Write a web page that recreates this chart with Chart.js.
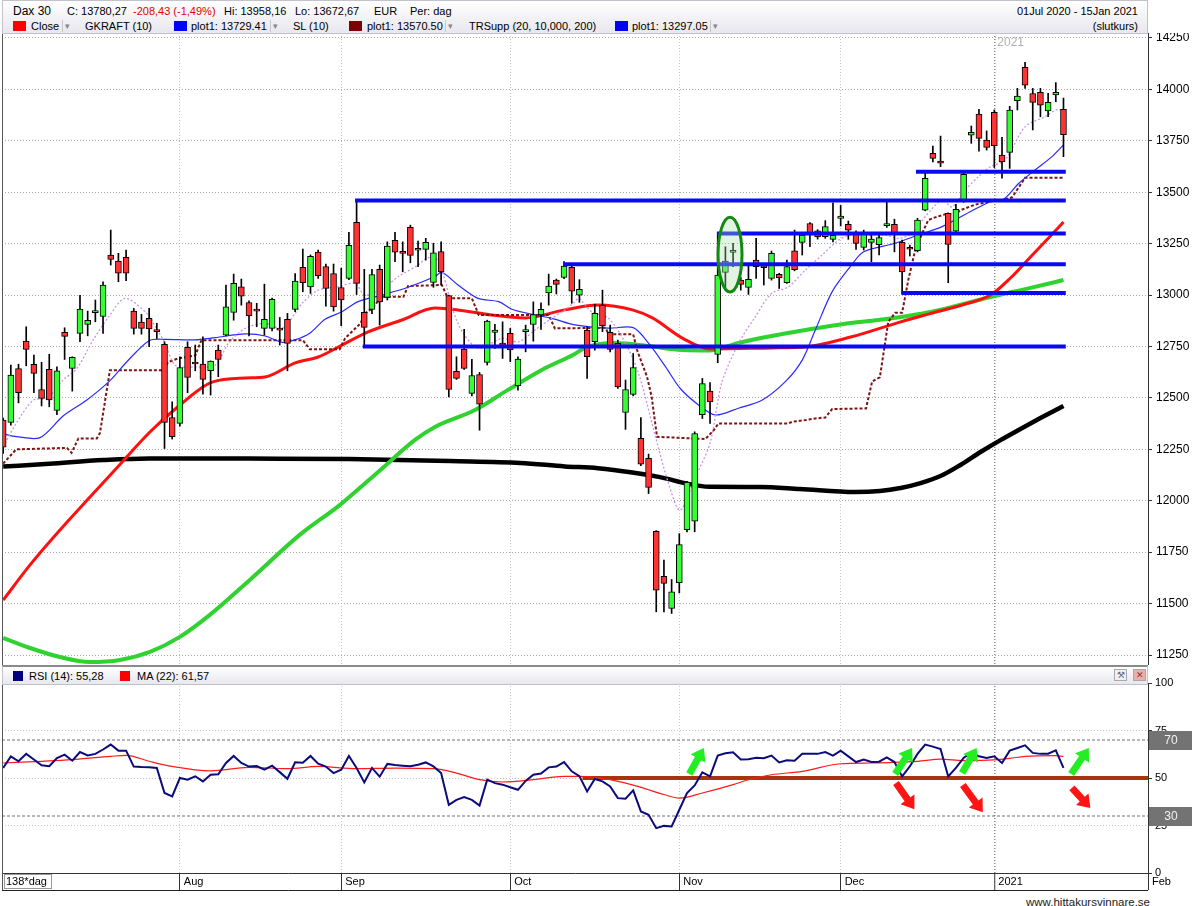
<!DOCTYPE html>
<html>
<head>
<meta charset="utf-8">
<title>Dax 30</title>
<script src="https://cdn.jsdelivr.net/npm/chart.js@4.4.1/dist/chart.umd.min.js"></script>
<style>
  html, body { margin: 0; padding: 0; background: #fff; }
  body { font-family: "Liberation Sans", Arial, sans-serif; color: #000; }
  #page { position: relative; width: 1194px; height: 906px; overflow: hidden; }
  .band { position: absolute; left: 2px; width: 1146px; box-sizing: border-box;
          background: linear-gradient(#ffffff, #e7e7ee); border: 1px solid #c2c2cc; z-index: 2; }
  .t { position: absolute; font-size: 11px; line-height: 14px; white-space: nowrap; }
  .sq { position: absolute; width: 13px; height: 10px; }
  .dd { position: absolute; width: 9px; height: 12px; border-left: 1px solid #c8c8c8; color: #888;
        font-size: 9px; line-height: 12px; text-align: center; }
  .ico { position: absolute; width: 13px; height: 12px; border: 1px solid #a8a8b0; box-sizing: border-box;
         font-size: 9px; line-height: 10px; text-align: center; }
  canvas { position: absolute; left: 0; }
</style>
</head>
<body>
<div id="page">
  <canvas id="mainChart" width="1194" height="632" style="top:33px"></canvas>
  <canvas id="rsiChart" width="1194" height="216" style="top:675px"></canvas>

  <div class="band" style="top:0;height:34px;">
    <span class="t" style="left:10px;top:3px;font-size:12px;">Dax 30</span>
    <span class="t" style="left:64px;top:3px;">C: 13780,27</span>
    <span class="t" style="left:130px;top:3px;color:#e00000;">-208,43 (-1,49%)</span>
    <span class="t" style="left:221px;top:3px;">Hi: 13958,16</span>
    <span class="t" style="left:292px;top:3px;">Lo: 13672,67</span>
    <span class="t" style="left:371px;top:3px;">EUR</span>
    <span class="t" style="left:407px;top:3px;">Per: dag</span>
    <span class="t" style="right:9px;top:3px;">01Jul 2020 - 15Jan 2021</span>

    <span class="sq" style="left:10px;top:20px;background:#ff0000;"></span>
    <span class="t" style="left:28px;top:18px;">Close</span>
    <span class="dd" style="left:59px;top:19px;">&#9662;</span>
    <span class="t" style="left:82px;top:18px;">GKRAFT (10)</span>
    <span class="sq" style="left:171px;top:20px;background:#0000ff;"></span>
    <span class="t" style="left:188px;top:18px;">plot1: 13729.41</span>
    <span class="dd" style="left:267px;top:19px;">&#9662;</span>
    <span class="t" style="left:290px;top:18px;">SL (10)</span>
    <span class="sq" style="left:346px;top:20px;background:#800000;"></span>
    <span class="t" style="left:364px;top:18px;">plot1: 13570.50</span>
    <span class="dd" style="left:442px;top:19px;">&#9662;</span>
    <span class="t" style="left:466px;top:18px;">TRSupp (20, 10,000, 200)</span>
    <span class="sq" style="left:612px;top:20px;background:#0000ff;"></span>
    <span class="t" style="left:629px;top:18px;">plot1: 13297.05</span>
    <span class="dd" style="left:707px;top:19px;">&#9662;</span>
    <span class="t" style="right:9px;top:18px;">(slutkurs)</span>
  </div>

  <div class="band" style="top:665px;height:20px;border-top:2px solid #8a8a8a;">
    <span class="sq" style="left:10px;top:4px;width:10px;background:#000080;"></span>
    <span class="t" style="left:26px;top:2px;">RSI (14): 55,28</span>
    <span class="sq" style="left:117px;top:4px;width:10px;background:#ff0000;"></span>
    <span class="t" style="left:134px;top:2px;">MA (22): 61,57</span>
    <span class="ico" style="left:1111px;top:2px;background:#eef0f4;color:#667;">&#9874;</span>
    <span class="ico" style="left:1130px;top:2px;background:#e8b0a8;color:#933;">&#10005;</span>
  </div>

  <span class="t" style="right:44px;top:895px;font-size:11.5px;color:#222;">www.hittakursvinnare.se</span>
</div>

<script>
// ---- daily candles, 01 Jul 2020 - 15 Jan 2021 (index 0 = 01 Jul) ----
const opens = [
  12392,12381,12643,12776,12663,12541,12639,12439,12819,12643,
  12814,12857,12915,12896,13195,13165,13183,12922,12869,12887,
  12825,12760,12405,12376,12746,12672,12664,12632,12732,12805,
  12916,13040,12964,12926,12838,12838,12833,12882,12930,13135,
  13040,13209,13139,13105,13037,13081,13354,12916,12930,13125,
  12989,13266,13205,13329,13218,13222,13062,13211,12997,12629,
  12737,12522,12614,12673,12819,12760,12814,12559,12822,12857,
  12903,13011,13073,13086,13135,13000,12830,12773,12951,12819,
  12765,12429,12517,12303,12206,11851,11633,11476,11602,11860,
  11901,12418,12533,12711,13110,13208,13073,13037,13170,13135,
  13081,13101,13060,13215,13256,13348,13313,13284,13271,13373,
  13344,13305,13232,13256,13245,13338,13344,13256,13226,13216,
  13413,13689,13652,13397,13311,13455,13778,13880,13754,13889,
  13681,13694,13945,14107,13980,13986,13896,13973,13903
];
const highs = [
  12402,12660,12664,12846,12708,12673,12712,12651,12841,12700,
  12999,12922,12976,13065,13316,13203,13219,12935,12906,12935,
  12863,12773,12481,12700,12773,12757,12797,12680,12757,13049,
  13102,13078,12972,12960,13053,12985,12891,12911,13105,13224,
  13195,13219,13151,13151,13131,13305,13462,13125,13125,13146,
  13259,13305,13259,13340,13263,13276,13252,13259,13000,12700,
  12833,12688,12624,12878,12858,12870,12838,12700,12854,12967,
  12962,13102,13078,13163,13154,13075,12846,12956,13024,12854,
  12781,12587,12716,12405,12227,11855,11711,11617,11840,12095,
  12335,12595,12574,13303,13235,13252,13086,13146,13276,13151,
  13214,13106,13170,13316,13298,13352,13318,13362,13449,13436,
  13360,13313,13316,13295,13300,13454,13369,13268,13243,13373,
  13592,13725,13773,13400,13441,13592,13822,13903,13798,13900,
  13767,13918,14005,14132,14005,14005,13981,14033,13958
];
const lows = [
  12230,12368,12476,12656,12525,12461,12457,12419,12687,12533,
  12773,12802,12870,12814,13146,13065,13070,12810,12810,12749,
  12789,12254,12300,12363,12525,12632,12518,12514,12603,12801,
  12878,12951,12801,12846,12805,12826,12757,12632,12919,13016,
  13008,13081,12946,12922,12851,13075,13003,12753,12910,12854,
  12976,13162,13113,13157,13138,13170,13038,13049,12505,12590,
  12638,12510,12343,12660,12741,12692,12676,12538,12724,12776,
  12833,12951,13005,13080,12960,12965,12595,12732,12822,12724,
  12546,12347,12510,12170,12035,11460,11460,11452,11552,11849,
  11849,12400,12376,12671,13028,13138,13024,13003,13081,13049,
  13073,13032,13057,13118,13195,13235,13272,13276,13259,13336,
  13271,13222,13219,13162,13195,13329,13210,13008,13190,13210,
  13410,13648,13624,13060,13308,13451,13738,13700,13705,13620,
  13568,13616,13900,14005,13803,13867,13867,13940,13673
];
const closes = [
  12261,12611,12525,12736,12619,12498,12490,12632,12799,12697,
  12932,12877,12920,13049,13174,13106,13106,12838,12838,12836,
  12822,12381,12311,12648,12600,12665,12590,12679,12687,12943,
  13057,12995,12899,12922,12882,12979,12830,12765,13068,13060,
  13188,13094,13032,12943,12976,13242,13057,12843,13100,12967,
  13238,13209,13203,13193,13220,13256,13206,13113,12541,12595,
  12643,12609,12470,12873,12830,12757,12733,12689,12826,12905,
  12931,13044,13052,13141,13019,13028,12700,12911,12851,12736,
  12554,12541,12648,12178,12065,11565,11598,11557,11787,12089,
  12327,12570,12481,13097,13165,13218,13052,13076,13138,13133,
  13203,13084,13138,13124,13292,13292,13283,13333,13290,13384,
  13316,13251,13300,13272,13280,13340,13295,13113,13223,13365,
  13568,13665,13641,13246,13417,13587,13791,13762,13718,13726,
  13648,13900,13968,14021,13937,13924,13937,13986,13780
];

// axis ticks
const yTicks = [11250,11500,11750,12000,12250,12500,12750,13000,13250,13500,13750,14000,14250];
const monthTicks = [-0.15, 23, 44, 66, 88, 109, 129, 149];
const monthLabels = ['138*dag', 'Aug', 'Sep', 'Oct', 'Nov', 'Dec', '2021', 'Feb'];
const yearTick = 129;
const rsiTicks = [0, 25, 50, 75, 100];

// indicator lines: [candle index, value]
const ma200 = [[0,12166],[6,12180],[13,12198],[19,12206],[32,12205],[45,12203],[58.2,12193],[67.3,12184],
  [73.1,12167],[77.4,12158],[81.9,12137],[86.2,12109],[88.4,12088],[92,12068],[98.5,12067],[103.7,12057],
  [110.9,12042],[114.1,12047],[116.8,12062],[119.4,12086],[122,12120],[124.6,12174],[127.2,12237],
  [129.8,12295],[132.4,12349],[135,12402],[138,12461]];
const ma50 = [[0,11517],[3.5,11688],[7.4,11858],[11.3,12018],[14.9,12164],[19.1,12334],[22.7,12456],
  [27.2,12577],[31.5,12597],[34.1,12602],[38,12670],[41,12699],[44.1,12757],[47.5,12821],[51.9,12879],
  [56.2,12937],[59.2,12928],[63.6,12903],[67.9,12889],[73.1,12928],[77.4,12952],[81.9,12928],[84.5,12889],
  [88.4,12791],[92,12738],[100,12743],[104.4,12748],[110.3,12796],[116.8,12870],[120.7,12910],
  [124.8,12952],[128.5,13000],[131.1,13083],[133.7,13185],[136.3,13287],[138,13355]];
const ma100 = [[0,11333],[3.5,11284],[7.4,11240],[11.3,11216],[15.2,11226],[19.1,11265],[23,11338],
  [26.9,11445],[32.1,11615],[38.6,11834],[43.8,11979],[49.1,12150],[53.6,12296],[56.2,12359],[61.4,12441],
  [65.7,12539],[70.1,12636],[74.4,12714],[75.7,12743],[79.6,12767],[83.9,12753],[88.4,12733],[92,12731],
  [95.7,12767],[100,12801],[104.4,12830],[110.3,12864],[113.9,12879],[120.7,12918],[128.5,12991],
  [133.7,13035],[138,13073]];
const gkraft = [[0,12325],[1.7,12312],[4.8,12307],[7.8,12412],[10.9,12490],[13.9,12584],[16.1,12676],
  [19,12778],[21,12785],[25,12782],[27.6,12793],[31.5,12811],[34.1,12801],[36.3,12770],[38,12782],
  [39.9,12814],[41.9,12882],[44.1,12919],[46.2,12968],[49.3,13000],[52.7,13038],[56.2,13090],[57.1,13111],
  [59.2,13049],[61.8,12984],[64.5,12968],[66.2,12931],[69.2,12903],[71.4,12887],[74.4,12855],[78.8,12839],
  [82,12842],[84,12766],[86.2,12652],[88.1,12547],[90.5,12466],[92.7,12417],[95.7,12450],[98.8,12490],
  [101.8,12579],[104,12684],[105.7,12830],[107.9,13017],[110.3,13141],[112,13211],[116.1,13252],
  [119.1,13292],[122.2,13333],[126.1,13410],[128.5,13454],[130.2,13466],[132.2,13544],[134.3,13608],
  [136.5,13673],[138,13730]];
const gkraftFast = [[0,12262],[1.7,12376],[3.9,12489],[5.7,12499],[7.8,12587],[9.6,12644],[11.7,12781],
  [13.9,12903],[15.9,12984],[18.7,12911],[19.8,12846],[21.1,12765],[22.4,12659],[25,12651],[27.6,12659],
  [29.3,12765],[31.5,12838],[34.1,12862],[36.3,12838],[38,12911],[38.9,12960],[41,13024],[43.6,13040],
  [45.8,13057],[47.1,13000],[49.7,13040],[51.4,13089],[54,13146],[55.2,13180],[56.4,13175],[57.1,13122],
  [59.2,12862],[61.8,12741],[64.9,12789],[67.1,12773],[69.2,12830],[71.4,12887],[73.1,12927],[74.4,12967],
  [74.9,12984],[76.6,12919],[78.8,12887],[81,12765],[82.7,12619],[84.9,12311],[86.6,12084],[88.1,11954],
  [90.1,12116],[92,12280],[93.5,12570],[95.7,12765],[97.9,12895],[100,13008],[102.2,13040],[104.4,13122],
  [106.6,13195],[108.7,13267],[110.3,13292],[112.2,13292],[114.8,13292],[116.5,13276],[118.3,13300],
  [120,13381],[122.2,13462],[123.5,13429],[125.2,13510],[126.9,13575],[128.5,13624],[130.4,13657],
  [133,13819],[135.6,13867],[137.2,13903],[138,13892]];
const slStop = [[0,12181],[1.7,12250],[8.3,12257],[8.9,12233],[9.8,12303],[12.2,12303],[12.6,12330],
  [13.9,12635],[20.7,12635],[21.5,12675],[22.8,12692],[25,12706],[25.8,12781],[39,12781],[39.9,12737],
  [43.8,12737],[44.5,12790],[46.5,12862],[47.1,12911],[48,12935],[49.3,12992],[52.1,12992],[52.7,13044],
  [57.1,13049],[57.9,12984],[61,12984],[61.9,12903],[71,12903],[71.8,12838],[78.4,12841],[78.8,12809],
  [82,12809],[82.5,12733],[83.8,12603],[84.4,12506],[85.1,12311],[91.4,12300],[92.5,12344],[93.1,12376],
  [102.2,12376],[102.7,12384],[104.4,12392],[105.7,12400],[107,12405],[107.9,12446],[112.3,12449],
  [113.1,12580],[114.1,12600],[115.2,12870],[116.1,12914],[117,12914],[117.8,13073],[118.7,13219],
  [119.6,13300],[120.4,13365],[121.3,13378],[122.6,13393],[123.9,13393],[124.6,13413],[126.5,13440],
  [128.5,13455],[130.4,13465],[131.3,13475],[133,13570],[138,13570]];
const supLevels = [13460, 12750, 13150, 13300, 13010, 13600];
const supStart = [45.8, 46.8, 72.9, 92.9, 116.9, 118.8];
const supEnd = 138.3;

// RSI panel
const rsi = [
  55.3,61.4,58.8,62.7,59.7,56.7,56.2,60.5,62.3,59.1,
  63.7,61.9,62.7,65.0,67.6,64.4,64.4,56.0,55.8,55.7,
  55.3,42.1,40.3,50.0,49.1,50.9,48.2,51.7,52.0,57.9,
  61.6,57.9,56.0,56.3,54.4,56.5,53.1,49.6,58.3,58.0,
  61.6,57.5,56.0,52.6,54.4,61.6,55.3,47.7,55.3,50.7,
  57.4,56.8,56.5,56.2,57.0,58.2,56.1,52.6,35.9,38.5,
  40.0,38.5,35.5,49.1,47.3,46.5,45.1,43.8,48.5,51.7,
  52.4,55.6,56.0,58.4,53.5,51.0,42.9,49.5,48.2,45.6,
  39.4,39.1,43.5,32.4,30.6,23.6,24.8,24.5,33.3,42.1,
  46.1,53.0,50.9,61.8,63.0,63.5,59.7,59.9,60.6,60.4,
  61.8,58.2,59.3,59.1,62.8,62.7,62.7,63.7,61.8,64.4,
  61.4,58.4,59.7,58.4,58.6,60.9,58.4,50.8,56.1,62.7,
  67.6,66.5,65.3,50.8,55.3,60.6,63.5,61.4,60.5,61.4,
  57.9,64.4,65.8,67.2,63.2,62.7,62.8,64.6,55.3
];
const rsiMa = [[0,57.9],[5,58.8],[9,59.7],[14,61.4],[16,61.9],[19,58.8],[22,56.1],[27,53.8],[32,55.6],
  [37,54.9],[41,56.1],[46,54.9],[51,55.2],[56,54.9],[59,52.6],[62,49.1],[65,47.9],[69,49.1],[73,50.9],
  [75,50.9],[79,49.1],[83,45.1],[86,41.3],[88,39.4],[91,42.1],[95,46.5],[97,49.1],[100,51.7],[104,53.5],
  [109,57.5],[113,57.9],[116,58.2],[119,58.8],[122,59.9],[125,59.1],[129,59.5],[131,60.3],[133,61.4],
  [137,61.8],[138,61.4]];
const rsiBands = [70, 30];
const rsiMid = 50;
const rsiMidStart = 75.4;
const upArrows = [[89.3,52.1,91.2,65.8],[116.1,52.1,118.3,65.8],[124.8,52.6,126.7,65.8],[139,52.1,141.3,65.8]];
const downArrows = [[116.2,47.4,118.6,33.6],[124.9,46.3,127.5,32.0],[139.1,44.8,141.5,34.2]];
const marked = { x: 94.6, y: 13197, rx: 1.56, ry: 182 };

const X_MIN = -0.15, X_MAX = 149;
const GREEN = '#33ff33', RED = '#ff3333';

Chart.defaults.font.family = '"Liberation Sans", Arial, sans-serif';
Chart.defaults.font.size = 11;
Chart.defaults.color = '#000';

const pts = arr => arr.map(p => ({ x: p[0], y: p[1] }));
const lineSet = (arr, color, width, order, extra) => Object.assign({
  type: 'line', data: pts(arr), borderColor: color, borderWidth: width, pointRadius: 0,
  fill: false, cubicInterpolationMode: 'monotone', order: order
}, extra || {});

const noPad = s => { s.paddingTop = 0; s.paddingBottom = 0; s.paddingLeft = 0; s.paddingRight = 0; };

const mainDecor = {
  id: 'mainDecor',
  afterDatasetsDraw(chart) {
    const { ctx, scales: { x, y } } = chart;
    const cx = x.getPixelForValue(marked.x), cy = y.getPixelForValue(marked.y);
    const rx = Math.abs(x.getPixelForValue(marked.x + marked.rx) - cx);
    const ry = Math.abs(y.getPixelForValue(marked.y + marked.ry) - cy);
    ctx.save();
    ctx.beginPath();
    ctx.ellipse(cx, cy, rx, ry, 0, 0, Math.PI * 2);
    ctx.fillStyle = 'rgba(170,220,170,0.35)';
    ctx.fill();
    ctx.lineWidth = 3;
    ctx.strokeStyle = '#128a12';
    ctx.stroke();
    ctx.restore();
  },
  afterDraw(chart) {
    const { ctx, chartArea: a, scales: { x } } = chart;
    ctx.save();
    ctx.strokeStyle = '#555';
    ctx.lineWidth = 1;
    ctx.beginPath();
    ctx.moveTo(a.left + 0.5, a.top);
    ctx.lineTo(a.left + 0.5, a.bottom);
    ctx.stroke();
    ctx.fillStyle = '#b0b0b0';
    ctx.font = '12px "Liberation Sans", Arial, sans-serif';
    ctx.textBaseline = 'top';
    ctx.fillText('2021', x.getPixelForValue(yearTick) + 3, a.top + 4);
    ctx.restore();
  }
};

function drawArrow(ctx, x0, y0, x1, y1, color) {
  const ang = Math.atan2(y1 - y0, x1 - x0);
  const len = Math.hypot(x1 - x0, y1 - y0);
  const hw = 3.5, headW = 8.5, headL = 12;
  ctx.save();
  ctx.translate(x0, y0);
  ctx.rotate(ang);
  ctx.beginPath();
  ctx.moveTo(0, -hw);
  ctx.lineTo(len - headL, -hw);
  ctx.lineTo(len - headL, -headW);
  ctx.lineTo(len, 0);
  ctx.lineTo(len - headL, headW);
  ctx.lineTo(len - headL, hw);
  ctx.lineTo(0, hw);
  ctx.closePath();
  ctx.fillStyle = color;
  ctx.fill();
  ctx.restore();
}

const rsiDecor = {
  id: 'rsiDecor',
  afterDatasetsDraw(chart) {
    const { ctx, scales: { x, y } } = chart;
    upArrows.forEach(a => drawArrow(ctx, x.getPixelForValue(a[0]), y.getPixelForValue(a[1]),
      x.getPixelForValue(a[2]), y.getPixelForValue(a[3]), '#22ee22'));
    downArrows.forEach(a => drawArrow(ctx, x.getPixelForValue(a[0]), y.getPixelForValue(a[1]),
      x.getPixelForValue(a[2]), y.getPixelForValue(a[3]), '#ff1414'));
  },
  afterDraw(chart) {
    const { ctx, chartArea: a, scales: { y } } = chart;
    ctx.save();
    ctx.strokeStyle = '#555';
    ctx.lineWidth = 1;
    ctx.beginPath();
    ctx.moveTo(a.left + 0.5, a.top);
    ctx.lineTo(a.left + 0.5, a.bottom + 17);
    ctx.stroke();
    ctx.strokeStyle = '#222';
    ctx.beginPath();
    ctx.moveTo(a.left, a.bottom + 17.5);
    ctx.lineTo(a.right, a.bottom + 17.5);
    ctx.stroke();
    ctx.strokeStyle = '#9a9a9a';
    ctx.strokeRect(a.left + 2.5, a.bottom + 1.5, 47, 14);
    ctx.font = '12px "Liberation Sans", Arial, sans-serif';
    ctx.textAlign = 'center';
    ctx.textBaseline = 'middle';
    rsiBands.forEach(v => {
      const py = y.getPixelForValue(v);
      ctx.fillStyle = '#737373';
      ctx.fillRect(a.right + 1, py - 9, 43, 19);
      ctx.fillStyle = '#f2f2f2';
      ctx.fillText(String(v), a.right + 23, py + 1);
    });
    ctx.restore();
  }
};

new Chart(document.getElementById('mainChart'), {
  type: 'bar',
  data: {
    datasets: [
      ...supLevels.map((lv, k) => ({
        type: 'line', data: [{ x: supStart[k], y: lv }, { x: supEnd, y: lv }],
        borderColor: '#0a0af2', borderWidth: 4, pointRadius: 0, order: 0
      })),
      {
        type: 'bar', order: 1, grouped: false, barThickness: 6, minBarLength: 2,
        data: opens.map((o, i) => ({ x: i, y: [o, closes[i]] })),
        backgroundColor: opens.map((o, i) => closes[i] >= o ? GREEN : RED),
        borderColor: '#000', borderWidth: 1, borderSkipped: false
      },
      {
        type: 'bar', order: 2, grouped: false, barThickness: 1,
        data: highs.map((h, i) => ({ x: i, y: [lows[i], h] })),
        backgroundColor: '#000', borderWidth: 0
      },
      lineSet(gkraftFast, '#c994e6', 1.3, 3, { borderDash: [2, 2], cubicInterpolationMode: 'default', tension: 0.3 }),
      lineSet(gkraft, '#2a2aff', 1.2, 4, { cubicInterpolationMode: 'default', tension: 0.3 }),
      lineSet(slStop, '#7d1414', 2, 5, { borderDash: [3, 2], cubicInterpolationMode: 'default', tension: 0 }),
      lineSet(ma50, '#ff1010', 3, 6),
      lineSet(ma100, '#2fd22f', 4, 7),
      lineSet(ma200, '#000000', 4.5, 8)
    ]
  },
  options: {
    responsive: false, animation: false, devicePixelRatio: 1, events: [],
    layout: { padding: { left: 2, right: 0, top: 0, bottom: 0 } },
    plugins: { legend: { display: false }, tooltip: { enabled: false } },
    scales: {
      x: {
        type: 'linear', min: X_MIN, max: X_MAX, offset: false,
        afterBuildTicks: s => { s.ticks = monthTicks.map(v => ({ value: v })); },
        afterFit: s => { s.height = 0; noPad(s); },
        ticks: { display: false },
        grid: {
          offset: false, drawTicks: false,
          color: c => c.tick && c.tick.value === yearTick ? '#8a8a8a' : (c.tick && c.tick.value < 0 ? 'rgba(0,0,0,0)' : '#c4c4c4'),
          lineWidth: c => c.tick && c.tick.value === yearTick ? 1.5 : 1
        },
        border: { display: false, dash: [1, 2] }
      },
      y: {
        position: 'right', min: 11201.4, max: 14274.3,
        afterBuildTicks: s => { s.ticks = yTicks.map(v => ({ value: v })); },
        afterFit: s => { s.width = 46; noPad(s); },
        ticks: { padding: 4, color: '#000', font: { size: 12 }, callback: v => String(v) },
        grid: { color: '#a6a6a6', tickLength: 4, tickColor: '#333', tickBorderDash: [] },
        border: { color: '#333', dash: [1, 2] }
      }
    }
  },
  plugins: [mainDecor]
});

new Chart(document.getElementById('rsiChart'), {
  type: 'line',
  data: {
    datasets: [
      { data: rsi.map((v, i) => ({ x: i, y: v })), borderColor: '#0b0b7c', borderWidth: 2, pointRadius: 0, tension: 0, order: 0 },
      lineSet(rsiMa, '#ff1a1a', 1.2, 1),
      { data: [{ x: rsiMidStart, y: rsiMid }, { x: X_MAX, y: rsiMid }], borderColor: '#a8340f', borderWidth: 4, pointRadius: 0, order: 2 },
      ...rsiBands.map(v => ({
        data: [{ x: X_MIN, y: v }, { x: X_MAX, y: v }], borderColor: '#6e6e6e', borderWidth: 1,
        borderDash: [3, 2], pointRadius: 0, order: 3
      }))
    ]
  },
  options: {
    responsive: false, animation: false, devicePixelRatio: 1, events: [],
    layout: { padding: { left: 2, right: 0, top: 8, bottom: 1 } },
    plugins: { legend: { display: false }, tooltip: { enabled: false } },
    scales: {
      x: {
        type: 'linear', min: X_MIN, max: X_MAX, position: 'bottom',
        afterBuildTicks: s => { s.ticks = monthTicks.map(v => ({ value: v })); },
        afterFit: s => { s.height = 17; noPad(s); },
        ticks: {
          autoSkip: false, maxRotation: 0, align: 'start', labelOffset: 4, padding: -15,
          color: '#000', font: { size: 11 },
          callback: v => monthLabels[monthTicks.indexOf(v)]
        },
        grid: {
          drawTicks: true, tickLength: 17, tickColor: '#333', tickWidth: 1, tickBorderDash: [],
          color: c => c.tick && c.tick.value === yearTick ? '#8a8a8a' : (c.tick && c.tick.value < 0 ? 'rgba(0,0,0,0)' : '#c8c8c8'),
          lineWidth: c => c.tick && c.tick.value === yearTick ? 1.5 : 1
        },
        border: { color: '#333', dash: [1, 2] }
      },
      y: {
        position: 'right', min: 0, max: 100,
        afterBuildTicks: s => { s.ticks = rsiTicks.map(v => ({ value: v })); },
        afterFit: s => { s.width = 46; noPad(s); },
        ticks: { padding: 3, color: '#000', font: { size: 11 }, callback: v => String(v) },
        grid: {
          color: c => c.tick && (c.tick.value === 0 || c.tick.value === 100) ? 'rgba(0,0,0,0)' : '#c6c6c6',
          tickLength: 4, tickColor: '#333', tickBorderDash: []
        },
        border: { color: '#333', dash: [1, 2] }
      }
    }
  },
  plugins: [rsiDecor]
});
</script>
</body>
</html>
